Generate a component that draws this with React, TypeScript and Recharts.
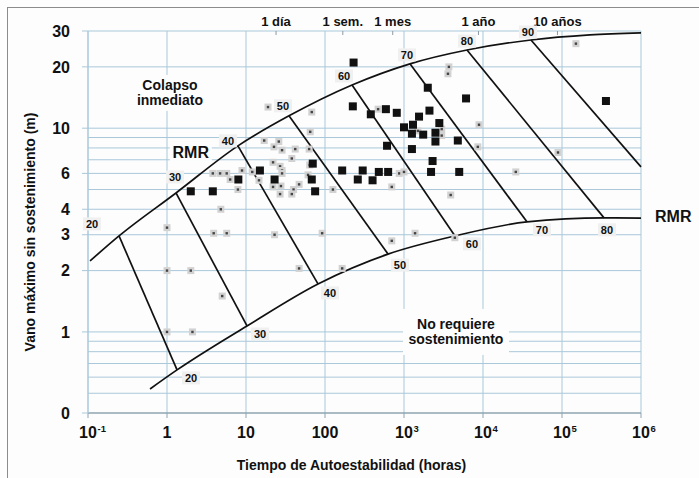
import React from "react";
import { ScatterChart, Scatter, XAxis, YAxis, ReferenceLine } from "recharts";

const FONT = '"Liberation Sans", Arial, Helvetica, sans-serif';
const INK = "#111";
const GRID = "#a9c8da";

// ---- axes ----
const xTicks = [0.1, 1, 10, 100, 1000, 10000, 100000, 1000000];
const xTickLabels = [["10", "-1"], ["1", ""], ["10", ""], ["100", ""], ["10", "3"], ["10", "4"], ["10", "5"], ["10", "6"]];
const timeTicks = [24, 168, 720, 8760, 87600];
const timeLabels = ["1 día", "1 sem.", "1 mes", "1 año", "10 años"];
const yTicks = [0.4, 1, 2, 3, 4, 5, 6, 8, 10, 20, 30];
const yGrid = [0.5, 0.6, 0.7, 0.8, 0.9, 1, 2, 3, 4, 5, 6, 7, 8, 9, 10, 20, 30];
const xGrid = [1, 10, 100, 1000, 10000, 100000, 1000000];

// ---- RMR envelope curves (x: horas, y: m) ----
const upperX = [0.106, 0.247, 1.3, 7.9, 35, 220, 1190, 6270, 40500, 226000, 1000000];
const upperY = [2.23, 2.96, 4.81, 8.19, 11.5, 16.3, 20.7, 24.2, 27.1, 28.7, 29.4];
const lowerX = [0.61, 1.34, 10.3, 81.5, 627, 4420, 36000, 340000, 1000000];
const lowerY = [0.525, 0.651, 1.07, 1.72, 2.41, 2.96, 3.47, 3.63, 3.62];
const rmrValues = [20, 30, 40, 50, 60, 70, 80, 90];
// RMR 90 leaves through the right edge
const rmr90End = { x: 1000000, y: 6.46 };

// ---- case histories ----
const blackX = [2, 3.8, 8, 15, 23, 70, 68, 75, 165, 230, 225, 380, 590, 810, 2000, 6100, 2100, 1550, 1000, 1300, 1260, 1750, 2800, 2500, 2500, 4800, 610, 1260, 2300, 2200, 5000, 300, 480, 630, 260, 400, 360000];
const blackY = [4.9, 4.9, 5.6, 6.2, 5.6, 6.7, 5.6, 4.9, 6.2, 21, 12.8, 11.7, 12.4, 11.9, 15.8, 14, 12.2, 11.4, 10.1, 10.4, 9.4, 9.3, 10.6, 9.5, 8.6, 8.7, 8.2, 7.9, 6.9, 6.1, 6.1, 6.2, 6.1, 6.1, 5.6, 5.55, 13.6];
const greyX = [3.8, 4.7, 5.7, 8.9, 6.3, 7.9, 4.8, 1, 3.9, 5.7, 1, 2, 5, 1, 2.1, 19, 68, 65, 17, 26, 22.6, 28.6, 42, 63, 38, 22, 27, 28.6, 28.6, 12, 14.6, 22, 27.7, 40, 47, 38, 27, 64, 61, 126, 23, 92, 47, 165, 3700, 3600, 470, 3000, 3000, 1500, 870, 1000, 700, 3900, 1380, 700, 4400, 150000, 8900, 8600, 89000, 26000];
const greyY = [6, 6, 6, 6.2, 5.6, 5.0, 4.0, 3.25, 3.05, 3.05, 2.0, 2.0, 1.5, 1, 1, 12.7, 12, 9.6, 8.7, 8.6, 8.1, 7.8, 7.9, 7.9, 7.1, 6.8, 6.5, 6.2, 6.0, 6.1, 5.55, 5.15, 5.2, 5.0, 5.3, 4.75, 4.75, 6.6, 5.9, 5.0, 3.0, 3.05, 2.05, 2.05, 20, 18.5, 12.4, 9.9, 9.2, 9.7, 6.0, 6.1, 5.15, 4.7, 3.05, 2.8, 2.9, 26, 10.4, 8.1, 7.6, 6.1];

// ---- annotations ----
const notes = [
  { x: 1.09, y: 14.9, lines: ["Colapso", "inmediato"], size: 14, w: 76, h: 36 },
  { x: 2.0, y: 7.65, lines: ["RMR"], size: 16, w: 42, h: 18 },
  { x: 4550, y: 1.0, lines: ["No requiere", "sostenimiento"], size: 14, w: 106, h: 46 },
];

// label placement offsets (px) from the junction point
const topOffsets = [[-27, -12], [-1, -16], [-10, -5], [-6, -10], [-8, -9], [-3, -9], [0, -9], [-3, -8]];
const bottomOffsets = [[14, 8], [13, 8], [12, 9], [12, 11], [17, 8], [15, 8], [3, 12]];

const pts = (xs: number[], ys: number[]) => xs.map((x, i) => ({ x, y: ys[i] }));
const upper = pts(upperX, upperY);
const lower = pts(lowerX, lowerY);
const isolines = rmrValues.map((r, i) => ({
  rmr: r,
  data: [upper[i + 1], i + 1 < lower.length - 1 ? lower[i + 1] : rmr90End],
}));
const topLabels = rmrValues.map((r, i) => ({ ...upper[i + 1], rmr: r, dx: topOffsets[i][0], dy: topOffsets[i][1] }));
const bottomLabels = rmrValues.slice(0, 7).map((r, i) => ({ ...lower[i + 1], rmr: r, dx: bottomOffsets[i][0], dy: bottomOffsets[i][1] }));
// time marks sit on the top edge of the plot (y = 30 m)
const timeMarks = timeTicks.map((x, i) => ({ x, y: 30, text: timeLabels[i] }));

const near = (a: number, b: number) => Math.abs(a - b) <= Math.abs(b) * 1e-6;

const noShape = () => <g />;

const BlackSquare = (p: any) => <rect x={p.cx - 4} y={p.cy - 4} width={8} height={8} fill={INK} />;
const GreyDot = (p: any) => (
  <g>
    <rect x={p.cx - 3.5} y={p.cy - 3.5} width={7} height={7} fill="#d2d2d2" />
    <rect x={p.cx - 1.2} y={p.cy - 1.2} width={2.4} height={2.4} fill="#444" />
  </g>
);

const NumLabel = (p: any) => {
  const { cx, cy, payload } = p;
  const x = cx + payload.dx;
  const y = cy + payload.dy;
  return (
    <g>
      <rect x={x - 9} y={y - 6.5} width={18} height={13} fill="#f0f0f0" />
      <text x={x} y={y + 4} textAnchor="middle" fontSize={11} fontWeight="bold" fontFamily={FONT} fill={INK}>
        {payload.rmr}
      </text>
    </g>
  );
};

const NoteShape = (p: any) => {
  const { cx, cy, payload } = p;
  const n = payload.lines.length;
  const lh = payload.size + 1;
  return (
    <g>
      <rect x={cx - payload.w / 2} y={cy - payload.h / 2} width={payload.w} height={payload.h} fill="#fdfdfd" />
      {payload.lines.map((t: string, i: number) => (
        <text
          key={i}
          x={cx}
          y={cy + (i - (n - 1) / 2) * lh + payload.size * 0.36}
          textAnchor="middle"
          fontSize={payload.size}
          fontWeight="bold"
          fontFamily={FONT}
          fill={INK}
        >
          {t}
        </text>
      ))}
    </g>
  );
};

const TimeMark = (p: any) => {
  const { cx, cy, payload } = p;
  return (
    <g>
      <line x1={cx} x2={cx} y1={cy} y2={cy + 4} stroke="#8a9aa4" />
      <text x={cx} y={cy - 5} textAnchor="middle" fontSize={13} fontWeight="bold" fontFamily={FONT} fill={INK}>
        {payload.text}
      </text>
    </g>
  );
};

const HourTick = (p: any) => {
  const { x, y, payload } = p;
  const i = xTicks.findIndex((t) => near(payload.value, t));
  const [base, exp] = i >= 0 ? xTickLabels[i] : [String(payload.value), ""];
  return (
    <g>
      <text x={x} y={y + 18} textAnchor="middle" fontSize={16} fontWeight="bold" fontFamily={FONT} fill={INK}>
        {base}
      </text>
      {exp && (
        <text x={x + 9.5} y={y + 12} fontSize={9.5} fontWeight="bold" fontFamily={FONT} fill={INK}>
          {exp}
        </text>
      )}
    </g>
  );
};

const YTitle = (p: any) => {
  const vb = p.viewBox || { x: 0, y: 31, width: 88, height: 382 };
  const cx = vb.x + 30;
  const cy = vb.y + vb.height / 2 + 10;
  return (
    <text
      x={cx}
      y={cy}
      transform={`rotate(-90 ${cx} ${cy})`}
      textAnchor="middle"
      dominantBaseline="central"
      fontSize={14}
      fontWeight="bold"
      fontFamily={FONT}
      fill={INK}
    >
      Vano máximo sin sostenimiento (m)
    </text>
  );
};

const XTitle = (p: any) => {
  const vb = p.viewBox || { x: 88, y: 413, width: 553, height: 65 };
  return (
    <text
      x={vb.x + vb.width / 2 - 13}
      y={vb.y + 57}
      textAnchor="middle"
      fontSize={14}
      fontWeight="bold"
      fontFamily={FONT}
      fill={INK}
    >
      Tiempo de Autoestabilidad (horas)
    </text>
  );
};

export default function App() {
  return (
    <div style={{ position: "absolute", left: 0, top: 0, width: 699, height: 478, background: "#fdfdfd" }}>
      <div
        style={{
          position: "absolute",
          left: 7,
          top: 7,
          width: 692,
          height: 471,
          borderTop: "1.5px solid #8c8c8c",
          borderLeft: "1.5px solid #8c8c8c",
        }}
      />
      <ScatterChart width={699} height={478} margin={{ top: 31, right: 58, bottom: 0, left: 0 }} style={{ position: "absolute", left: 0, top: 0 }}>
        <XAxis
          dataKey="x"
          type="number"
          scale="log"
          domain={[0.1, 1000000]}
          ticks={xTicks}
          height={65}
          tick={<HourTick />}
          tickSize={5}
          axisLine={{ stroke: "#8fa4b0", strokeWidth: 1.5 }}
          tickLine={{ stroke: "#8fa4b0" }}
          label={<XTitle />}
        />
        <YAxis
          dataKey="y"
          type="number"
          scale="log"
          domain={[0.4, 30]}
          ticks={yTicks}
          width={88}
          tickSize={6}
          tickMargin={12}
          tickFormatter={(v: number) => (near(v, 0.4) ? "0" : String(v))}
          tick={{ fill: INK, fontSize: 16, fontWeight: "bold", fontFamily: FONT }}
          axisLine={{ stroke: GRID, strokeWidth: 1.5 }}
          tickLine={{ stroke: GRID }}
          label={<YTitle />}
        />

        {yGrid.map((v) => (
          <ReferenceLine key={"h" + v} y={v} stroke={GRID} strokeWidth={1} />
        ))}
        {xGrid.map((v) => (
          <ReferenceLine key={"v" + v} x={v} stroke={GRID} strokeWidth={1} />
        ))}

        <Scatter data={upper} line={{ stroke: INK, strokeWidth: 1.7 }} lineJointType="monotoneX" shape={noShape} isAnimationActive={false} />
        <Scatter data={lower} line={{ stroke: INK, strokeWidth: 1.7 }} lineJointType="monotoneX" shape={noShape} isAnimationActive={false} />
        {isolines.map((l) => (
          <Scatter key={"rmr" + l.rmr} data={l.data} line={{ stroke: INK, strokeWidth: 1.7 }} shape={noShape} isAnimationActive={false} />
        ))}

        <Scatter data={timeMarks} shape={TimeMark} isAnimationActive={false} />
        <Scatter data={notes} shape={NoteShape} isAnimationActive={false} />
        <Scatter data={topLabels} shape={NumLabel} isAnimationActive={false} />
        <Scatter data={bottomLabels} shape={NumLabel} isAnimationActive={false} />

        <Scatter data={pts(greyX, greyY)} shape={GreyDot} isAnimationActive={false} />
        <Scatter data={pts(blackX, blackY)} shape={BlackSquare} isAnimationActive={false} />
      </ScatterChart>
      <div
        style={{
          position: "absolute",
          left: 655,
          top: 208,
          fontFamily: FONT,
          fontWeight: "bold",
          fontSize: 16,
          color: INK,
        }}
      >
        RMR
      </div>
    </div>
  );
}
